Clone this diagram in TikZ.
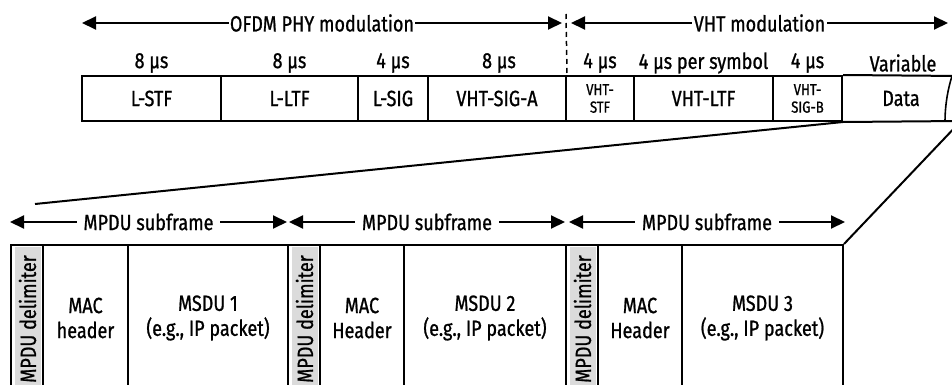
\documentclass[tikz,border=0pt]{standalone}
\usepackage{fontspec}
\setmainfont[FakeStretch=0.82,FakeBold=0.9]{Fira Sans}
\usetikzlibrary{arrows.meta}
\begin{document}
\begin{tikzpicture}[x=1pt,y=-1pt,
  txt/.style={font=\fontsize{22}{25}\selectfont},
  small/.style={font=\fontsize{16}{17.5}\selectfont},
  fbox/.style={draw, line width=2pt, minimum height=45pt, inner sep=0pt, align=center, txt},
  cbox/.style={draw, line width=2pt, minimum height=146pt, inner sep=0pt, align=center, txt},
  gbox/.style={fill=gray!28, rotate=90, minimum width=145pt, minimum height=26pt, inner sep=0pt, txt},
  lbl/.style={inner sep=0pt, txt},
  arr/.style={line width=2pt, {Triangle[length=14pt,width=13pt]}-{Triangle[length=14pt,width=13pt]}},
  mid/.style={fill=white, inner xsep=5pt, inner ysep=2pt, txt},
  ln/.style={line width=2pt}
]
\useasboundingbox (0,0) rectangle (952,385);
\clip (0,0) rectangle (952,385);

% top frame
\node[fbox, minimum width=139pt] (lstf) at (151.5,98.5) {L-STF};
\node[fbox, minimum width=137pt] (lltf) at (289.5,98.5) {L-LTF};
\node[fbox, minimum width=70pt] (lsig) at (393,98.5) {L-SIG};
\node[fbox, minimum width=138pt] (siga) at (497,98.5) {VHT-SIG-A};
\node[fbox, minimum width=68pt, small] (vstf) at (600,98.5) {VHT-\\STF};
\node[fbox, minimum width=139pt] (vltf) at (703.5,98.5) {VHT-LTF};
\node[fbox, minimum width=69pt, small] (vsigb) at (807.5,98.5) {VHT-\\SIG-B};
\node[lbl] (data) at (901,98.5) {Data};
\coordinate (dtr) at (960,76);
\coordinate (dbr) at (960,121);
\draw[ln] (vsigb.north east) -- (dtr);
\draw[ln] (vsigb.south east) -- (dbr);
\coordinate (wb) at (945,121);
\coordinate (wt) at (952,76);
\draw[line width=1.6pt] (wb) .. controls (945,108) and (947,92) .. (wt);

% timings
\node[lbl] (t1) at (151.5,63) {8 μs};
\node[lbl] (t2) at (289.5,63) {8 μs};
\node[lbl] (t3) at (393,63) {4 μs};
\node[lbl] (t4) at (499,63) {8 μs};
\node[lbl] (t5) at (600,63) {4 μs};
\node[lbl] (t6) at (703.5,63) {4 μs per symbol};
\node[lbl] (t7) at (807.5,63) {4 μs};
\node[lbl] (t8) at (903,63) {Variable};

% modulation arrows
\coordinate (oL) at (82,23);
\coordinate (oR) at (562,23);
\coordinate (vL) at (571,23);
\coordinate (vR) at (948,23);
\draw[arr] (oL) -- node[mid, inner xsep=1pt] {OFDM PHY modulation} (oR);
\draw[arr] (vL) -- node[mid, inner xsep=2pt] {VHT modulation} (vR);
\coordinate (dtop) at (566,14);
\draw[line width=1.5pt, dash pattern=on 5pt off 4pt] (dtop) -- (siga.north east);

% bottom frame
\node[gbox] (g1) at (27.5,319) {MPDU delimiter};
\node[gbox] (g2) at (304.5,319) {MPDU delimiter};
\node[gbox] (g3) at (582.5,319) {MPDU delimiter};
\node[cbox, minimum width=32pt] (d1) at (27,318) {};
\node[cbox, minimum width=85pt] (mac1) at (85.5,318) {MAC\\header};
\node[cbox, minimum width=160pt] (msdu1) at (208,318) {MSDU 1\\(e.g., IP packet)};
\node[cbox, minimum width=32pt] (d2) at (304,318) {};
\node[cbox, minimum width=84pt] (mac2) at (362,318) {MAC\\Header};
\node[cbox, minimum width=162pt] (msdu2) at (485,318) {MSDU 2\\(e.g., IP packet)};
\node[cbox, minimum width=32pt] (d3) at (582,318) {};
\node[cbox, minimum width=84pt] (mac3) at (640,318) {MAC\\Header};
\node[cbox, minimum width=161pt] (msdu3) at (762.5,318) {MSDU 3\\(e.g., IP packet)};

% subframe arrows
\coordinate (s1l) at (10,222);
\coordinate (s1r) at (287,222);
\coordinate (s2l) at (289,222);
\coordinate (s2r) at (565,222);
\coordinate (s3l) at (569,222);
\coordinate (s3r) at (845,222);
\draw[arr] (s1l) -- node[mid, inner xsep=7pt] {MPDU subframe} (s1r);
\draw[arr] (s2l) -- node[mid, inner xsep=7pt] {MPDU subframe} (s2r);
\draw[arr] (s3l) -- node[mid, inner xsep=7pt] {MPDU subframe} (s3r);

% zoom lines
\coordinate (zl) at (35,204);
\coordinate (zr) at (961,121);
\draw[ln] (vsigb.south east) -- (zl);
\draw[ln] (zr) -- (msdu3.north east);
\end{tikzpicture}
\end{document}
